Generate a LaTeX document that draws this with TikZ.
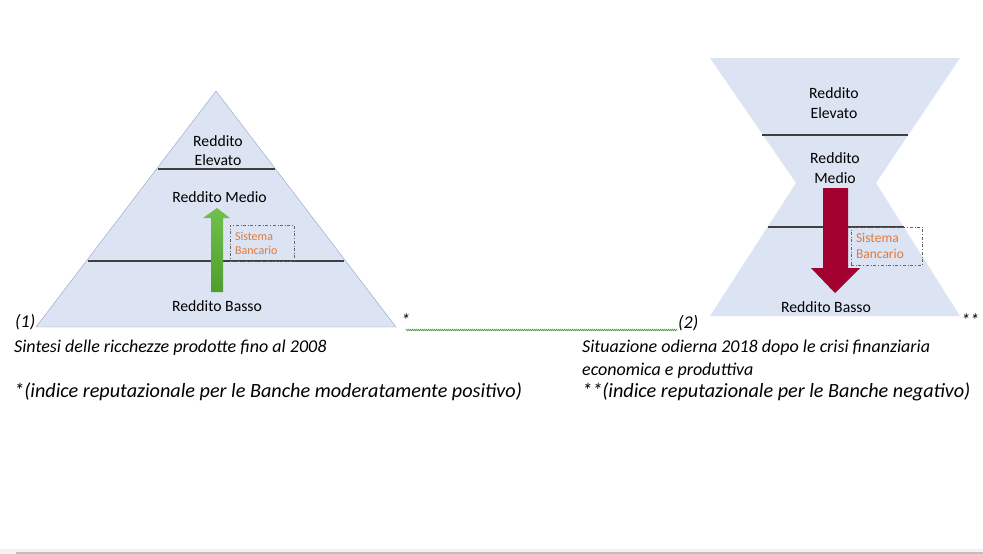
\documentclass[tikz,border=0pt]{standalone}
\usepackage{fontspec}
\setmainfont{Carlito}
\usetikzlibrary{decorations.pathmorphing}
\definecolor{tierfill}{HTML}{DCE3F2}
\definecolor{tieredge}{HTML}{8FA2C9}
\definecolor{tierline}{HTML}{3F3F3F}
\definecolor{bankorange}{HTML}{E07B39}
\definecolor{upgreen}{HTML}{4E9E2C}
\definecolor{upgreenlt}{HTML}{72C04C}
\definecolor{downred}{HTML}{A2002F}
\definecolor{spellgreen}{HTML}{3FA63F}

\begin{document}
\begin{tikzpicture}[
    x=1pt, y=-1pt, % pixel units, (0,0) at top left
    tier/.style={font=\fontsize{15.7}{19.5}\selectfont, align=center, inner sep=0pt},
    sep/.style={tierline, line width=1.1pt},
    bank/.style={draw=black!60, dash dot, line width=0.8pt, text=bankorange,
        align=left, inner ysep=0pt, inner xsep=5pt},
    note/.style={font=\fontsize{18}{23}\selectfont\itshape, anchor=base west, inner sep=0pt, align=left},
    bignote/.style={font=\fontsize{20.2}{22}\selectfont\itshape, anchor=base west, inner sep=0pt}
]
\useasboundingbox (0,0) rectangle (983,554);

% pyramid (1)
\draw[tieredge, fill=tierfill] (216,91) -- (396,327) -- (36,327) -- cycle;
\draw[sep] (158,169) -- (275,169);
\draw[sep] (88,261) -- (344,261);
\node[tier] (pyrHigh) at (218,150.5) {Reddito\\Elevato};
\node[tier] (pyrMid) at (219.5,197) {Reddito Medio};
\node[tier] (pyrLow) at (217,306) {Reddito Basso};
\node[bank, font=\fontsize{12}{14}\selectfont, text width=54pt, minimum height=36pt]
    (pyrBank) at (262,243) {Sistema\\Bancario};
\shade[top color=upgreenlt, bottom color=upgreen]
    (211,292) -- (211,218) -- (203,218) -- (217,208) -- (230,218) -- (223,218) -- (223,292) -- cycle;

% hourglass (2)
\fill[tierfill] (710,58) -- (960,58) -- (876,183) -- (960,316) -- (710,316) -- (796,183) -- cycle;
\draw[sep] (762,135) -- (908,135);
\draw[sep] (768,227) -- (904,227);
\node[tier] (hgHigh) at (834,103) {Reddito\\Elevato};
\node[tier] (hgMid) at (835,168) {Reddito\\Medio};
\node[tier] (hgLow) at (826,307) {Reddito Basso};
\node[bank, font=\fontsize{13.5}{16}\selectfont, text width=61pt, minimum height=38pt]
    (hgBank) at (886.5,246) {Sistema\\Bancario};
\fill[downred]
    (823,188) -- (848,188) -- (848,268) -- (860,268) -- (835,293) -- (811,268) -- (823,268) -- cycle;

% notes
\node[note] (lblOne) at (15,327) {(1)};
\node[note] (starOne) at (401,326) {*};
\node[note] (lblTwo) at (678,328) {(2)};
\node[note] (starTwo) at (961,326) {**};
\draw[spellgreen, line width=0.7pt, decorate,
    decoration={zigzag, amplitude=0.7pt, segment length=2pt}] (406,330) -- (677,330);
\node[note] (capOne) at (14,352) {Sintesi delle ricchezze prodotte fino al 2008};
% base of a two-line node is its last line
\node[note] (capTwo) at (582,375) {Situazione odierna 2018 dopo le crisi finanziaria\\economica e produttiva};
\node[bignote] (keyOne) at (14,397) {*(indice reputazionale per le Banche moderatamente positivo)};
\node[bignote] (keyTwo) at (582,397) {**(indice reputazionale per le Banche negativo)};

% window bar
\fill[black!5] (0,549) rectangle (983,554);
\fill[black!25] (16,552) rectangle (983,554);
\end{tikzpicture}
\end{document}
